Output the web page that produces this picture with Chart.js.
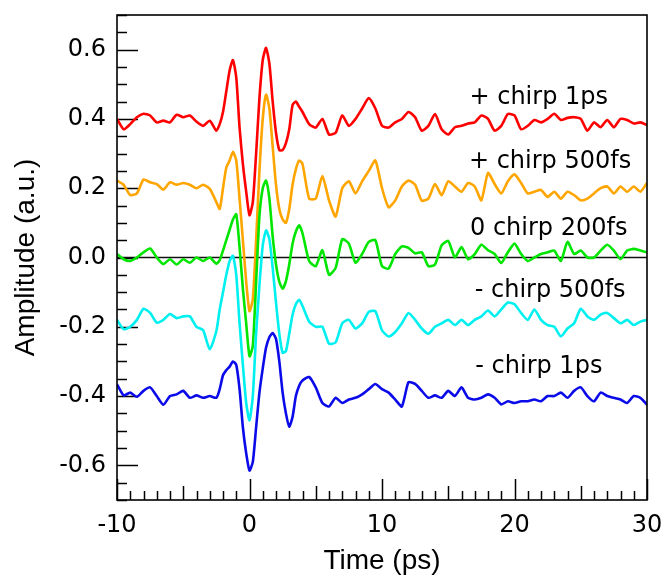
<!DOCTYPE html>
<html>
<head>
<meta charset="utf-8">
<script src="https://cdn.jsdelivr.net/npm/chart.js@4.4.1/dist/chart.umd.min.js"></script>
<style>
html,body{margin:0;padding:0;background:#fff;}
#wrap{width:662px;height:575px;}
</style>
</head>
<body>
<div id="wrap"><canvas id="c" width="662" height="575"></canvas></div>
<script>
// ---- data (time in ps, amplitude in a.u.) ----
const time = [
  -10,-9.5,-9,-8.5,-8,-7.5,-7,-6.5,-6,-5.5,-5,-4.5,-4,-3.5,-3,-2.5,
  -2.25,-2,-1.75,-1.5,-1.25,-1,-0.75,-0.5,-0.25,0,0.25,0.5,0.75,1,1.25,1.5,1.75,2,2.25,2.5,2.75,3,3.25,3.5,3.75,4,
  4.5,5,5.5,6,6.5,7,7.5,8,8.5,9,9.5,10,10.5,11,11.5,12,12.5,13,13.5,14,14.5,15,15.5,16,16.5,17,17.5,18,18.5,19,19.5,20,
  20.5,21,21.5,22,22.5,23,23.5,24,24.5,25,25.5,26,26.5,27,27.5,28,28.5,29,29.5,30
];
const plusChirp1ps = [
  0.40,0.37,0.385,0.405,0.415,0.41,0.39,0.395,0.39,0.412,0.405,0.41,0.392,0.38,0.395,0.366,
  0.385,0.42,0.48,0.54,0.57,0.52,0.375,0.27,0.19,0.122,0.16,0.30,0.46,0.57,0.605,0.56,0.45,0.36,0.31,0.31,0.33,0.37,0.44,0.45,0.435,0.42,
  0.385,0.375,0.40,0.355,0.36,0.41,0.38,0.40,0.43,0.46,0.43,0.38,0.375,0.39,0.40,0.42,0.405,0.366,0.38,0.414,0.37,0.355,0.376,0.38,0.387,0.39,0.41,0.40,0.366,0.38,0.414,0.41,
  0.37,0.38,0.397,0.39,0.40,0.415,0.397,0.403,0.405,0.40,0.366,0.39,0.376,0.397,0.376,0.40,0.397,0.387,0.39,0.382
];
const plusChirp500fs = [
  0.222,0.21,0.18,0.185,0.225,0.217,0.212,0.196,0.217,0.21,0.215,0.21,0.20,0.21,0.198,0.16,
  0.14,0.20,0.26,0.28,0.305,0.28,0.17,0.05,-0.07,-0.155,-0.12,0.05,0.25,0.40,0.47,0.43,0.32,0.21,0.14,0.11,0.10,0.14,0.21,0.255,0.28,0.27,
  0.17,0.17,0.235,0.165,0.118,0.20,0.22,0.185,0.22,0.25,0.28,0.20,0.145,0.165,0.205,0.222,0.21,0.164,0.17,0.212,0.18,0.22,0.205,0.19,0.215,0.205,0.165,0.244,0.212,0.185,0.22,0.24,
  0.215,0.185,0.19,0.195,0.175,0.19,0.17,0.19,0.18,0.165,0.17,0.185,0.20,0.205,0.185,0.205,0.19,0.205,0.19,0.215
];
const zeroChirp200fs = [
  0.01,-0.005,-0.01,0.0,0.015,0.026,0.0,-0.019,-0.005,-0.02,-0.005,-0.015,0.0,-0.01,0.0,-0.018,
  -0.008,0.02,0.05,0.08,0.11,0.125,0.03,-0.09,-0.19,-0.285,-0.255,-0.07,0.12,0.20,0.222,0.17,0.06,-0.02,-0.07,-0.09,-0.068,-0.02,0.04,0.075,0.093,0.07,
  -0.01,-0.025,0.021,-0.05,-0.03,0.053,0.04,-0.015,0.01,0.045,0.05,-0.025,-0.032,0.01,0.032,0.028,0.012,0.015,-0.025,-0.02,0.035,0.048,0.0,0.03,-0.005,0.01,0.037,0.021,0.01,-0.016,0.015,0.04,
  0.01,-0.01,0.0,0.01,0.015,0.02,-0.01,0.045,0.01,0.02,0.0,0.0,0.02,0.037,0.02,-0.005,0.02,0.025,0.02,0.015
];
const minusChirp500fs = [
  -0.18,-0.207,-0.20,-0.18,-0.148,-0.16,-0.188,-0.18,-0.163,-0.175,-0.17,-0.17,-0.2,-0.21,-0.265,-0.212,
  -0.15,-0.1,-0.05,-0.01,0.005,-0.05,-0.19,-0.31,-0.42,-0.47,-0.40,-0.22,-0.08,0.035,0.078,0.053,-0.03,-0.13,-0.22,-0.275,-0.27,-0.22,-0.165,-0.135,-0.122,-0.14,
  -0.185,-0.2,-0.2,-0.249,-0.245,-0.19,-0.18,-0.205,-0.19,-0.157,-0.155,-0.21,-0.228,-0.215,-0.19,-0.16,-0.18,-0.205,-0.22,-0.2,-0.19,-0.18,-0.195,-0.18,-0.195,-0.18,-0.17,-0.153,-0.17,-0.15,-0.13,-0.135,
  -0.16,-0.18,-0.15,-0.18,-0.195,-0.2,-0.228,-0.205,-0.19,-0.148,-0.17,-0.18,-0.165,-0.16,-0.175,-0.19,-0.18,-0.195,-0.185,-0.18
];
const minusChirp1ps = [
  -0.366,-0.398,-0.39,-0.402,-0.385,-0.375,-0.40,-0.425,-0.40,-0.395,-0.385,-0.405,-0.398,-0.405,-0.40,-0.405,
  -0.38,-0.34,-0.325,-0.315,-0.30,-0.31,-0.38,-0.49,-0.565,-0.615,-0.59,-0.49,-0.39,-0.32,-0.26,-0.23,-0.218,-0.235,-0.30,-0.39,-0.45,-0.488,-0.46,-0.40,-0.37,-0.355,
  -0.345,-0.375,-0.42,-0.43,-0.405,-0.42,-0.41,-0.405,-0.395,-0.38,-0.365,-0.38,-0.39,-0.41,-0.43,-0.36,-0.365,-0.385,-0.405,-0.398,-0.405,-0.385,-0.40,-0.375,-0.405,-0.41,-0.405,-0.395,-0.405,-0.424,-0.415,-0.42,
  -0.415,-0.415,-0.41,-0.415,-0.40,-0.4,-0.39,-0.405,-0.385,-0.375,-0.40,-0.415,-0.39,-0.40,-0.405,-0.41,-0.42,-0.40,-0.405,-0.425
];
const seriesNames = ['+ chirp 1ps','+ chirp 500fs','0 chirp 200fs','- chirp 500fs','- chirp 1ps'];
const xTickValues = [-10,0,10,20,30];
const yTickValues = [-0.6,-0.4,-0.2,0,0.2,0.4,0.6];

// label anchors in data coordinates (time, amplitude of text baseline)
const labelAnchors = [
  {text:seriesNames[0], t:16.6,  a:0.443},
  {text:seriesNames[1], t:16.56, a:0.258},
  {text:seriesNames[2], t:16.64, a:0.065},
  {text:seriesNames[3], t:17.0,  a:-0.114},
  {text:seriesNames[4], t:17.04, a:-0.3335}
];

const seriesValues = [plusChirp1ps, plusChirp500fs, zeroChirp200fs, minusChirp500fs, minusChirp1ps];
const colors = ['#ff0000','#ffa500','#00e600','#00f0f0','#0b0bea'];
const orders = [5,4,3,2,1];

const datasets = seriesValues.map((vals,k)=>({
  label: seriesNames[k],
  data: time.map((t,i)=>({x:t,y:vals[i]})),
  borderColor: colors[k],
  backgroundColor: colors[k],
  borderWidth: 2.6,
  pointRadius: 0,
  tension: 0.2,
  fill: false,
  order: orders[k]
}));

const deco = {
  id:'deco',
  beforeDatasetsDraw(chart){
    const {ctx, chartArea:a, scales:{x,y}} = chart;
    ctx.save();
    ctx.strokeStyle = '#000';
    ctx.lineWidth = 1.5;
    ctx.beginPath();
    for(let t=-10;t<=30;t++){
      const px = Math.round(x.getPixelForValue(t))+0.5;
      const len = (t%10===0)?21:((t%5===0)?14:9);
      ctx.moveTo(px,a.bottom); ctx.lineTo(px,a.bottom-len);
    }
    for(let k=-14;k<=14;k++){
      const py = Math.round(y.getPixelForValue(k*0.05))+0.5;
      const len = (k%4===0)?21:10;
      ctx.moveTo(a.left,py); ctx.lineTo(a.left+len,py);
    }
    ctx.stroke();
    ctx.lineWidth = 1.3;
    ctx.strokeStyle = '#111';
    const pz = y.getPixelForValue(0);
    ctx.beginPath(); ctx.moveTo(a.left,pz); ctx.lineTo(a.right,pz); ctx.stroke();
    ctx.restore();
  },
  afterDatasetsDraw(chart){
    const {ctx, chartArea:a, scales:{x,y}} = chart;
    ctx.save();
    ctx.strokeStyle = '#000';
    ctx.lineWidth = 1.6;
    ctx.strokeRect(a.left, a.top, a.right-a.left, a.bottom-a.top);
    ctx.fillStyle = '#000';
    ctx.font = '24px "DejaVu Sans"';
    ctx.textAlign = 'left';
    ctx.textBaseline = 'alphabetic';
    labelAnchors.forEach(l=>{
      ctx.fillText(l.text, x.getPixelForValue(l.t), y.getPixelForValue(l.a));
    });
    ctx.restore();
  }
};

new Chart(document.getElementById('c'), {
  type:'line',
  data:{datasets},
  options:{
    responsive:false,
    animation:false,
    devicePixelRatio:1,
    layout:{padding:{top:15,right:15,left:0,bottom:0}},
    plugins:{legend:{display:false},tooltip:{enabled:false}},
    scales:{
      x:{
        type:'linear', min:-10, max:30,
        afterBuildTicks:s=>{s.ticks = xTickValues.map(v=>({value:v}));},
        afterFit:s=>{s.height = 75; s.paddingLeft = 0; s.paddingRight = 0;},
        grid:{display:false, drawTicks:false},
        border:{display:false},
        ticks:{font:{family:'DejaVu Sans',size:24,lineHeight:1}, color:'#000', padding:14, maxRotation:0, autoSkip:false,
               callback:v=>String(v)},
        title:{display:true, text:'Time (ps)', color:'#000', font:{family:'Liberation Sans',size:28,lineHeight:1}, padding:{top:0,bottom:0}}
      },
      y:{
        type:'linear', min:-0.7, max:0.7,
        afterBuildTicks:s=>{s.ticks = yTickValues.map(v=>({value:v}));},
        afterFit:s=>{s.width = 117; s.paddingTop = 0; s.paddingBottom = 0;},
        grid:{display:false, drawTicks:false},
        border:{display:false},
        ticks:{font:{family:'DejaVu Sans',size:24,lineHeight:1}, color:'#000', padding:11, autoSkip:false,
               callback:v=>(Math.abs(v)<1e-9?0:v).toFixed(1)},
        title:{display:true, text:'Amplitude (a.u.)', color:'#000', font:{family:'Liberation Sans',size:28,lineHeight:1}, padding:{top:12,bottom:0}}
      }
    }
  },
  plugins:[deco]
});
</script>
</body>
</html>
